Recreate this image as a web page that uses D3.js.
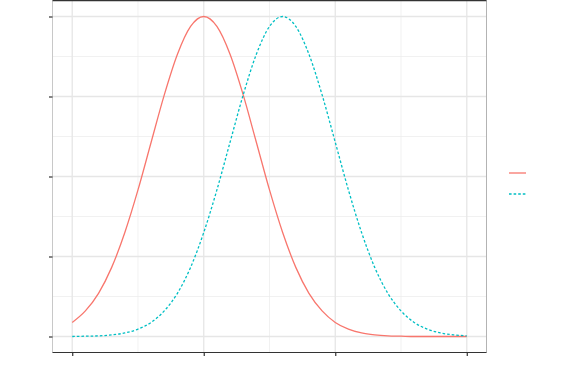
<!DOCTYPE html>
<html>
<head>
<meta charset="utf-8">
<script src="https://cdn.jsdelivr.net/npm/d3@7"></script>
<style>
  body { margin: 0; background: #fff; }
  svg { display: block; }
</style>
</head>
<body>
<div id="chart"></div>
<script>
// values (relative density, peak = 1)
const xs = [-1.0, -0.9, -0.8, -0.7, -0.6, -0.5, -0.4, -0.3, -0.2, -0.1, 0.0,
             0.1,  0.2,  0.3,  0.4,  0.5,  0.6,  0.7,  0.8,  0.9,  1.0,
             1.1,  1.2,  1.3,  1.4,  1.5,  1.6,  1.7,  1.8,  1.9,  2.0];
const seriesA = [0.044, 0.080, 0.135, 0.216, 0.325, 0.458, 0.607, 0.755, 0.882, 0.969, 1.000,
                 0.969, 0.882, 0.755, 0.607, 0.458, 0.325, 0.216, 0.135, 0.080, 0.044,
                 0.023, 0.011, 0.005, 0.002, 0.001, 0.000, 0.000, 0.000, 0.000, 0.000];
const seriesB = [0.000, 0.001, 0.002, 0.005, 0.011, 0.023, 0.044, 0.080, 0.135, 0.216, 0.325,
                 0.458, 0.607, 0.755, 0.882, 0.969, 1.000, 0.969, 0.882, 0.755, 0.607,
                 0.458, 0.325, 0.216, 0.135, 0.080, 0.044, 0.023, 0.011, 0.005, 0.002];
const xTicks = [-1, 0, 1, 2];
const xMinor = [-0.5, 0.5, 1.5];
const yTicks = [0, 0.25, 0.5, 0.75, 1];
const yMinor = [0.125, 0.375, 0.625, 0.875];

const width = 562, height = 388;
const panel = { left: 52.5, right: 486.5, top: 0.5, bottom: 352.5 };

const svg = d3.select("#chart").append("svg")
  .attr("width", width)
  .attr("height", height);

// ggplot-like 5% expansion
let xExt = d3.extent(xs);
let xPad = (xExt[1] - xExt[0]) * 0.05;
let x = d3.scaleLinear()
  .domain([xExt[0] - xPad, xExt[1] + xPad])
  .range([panel.left, panel.right]);

let yMax = d3.max(seriesA.concat(seriesB));
let y = d3.scaleLinear()
  .domain([-0.05 * yMax, 1.05 * yMax])
  .range([panel.bottom, panel.top]);

/* grid */
let grid = svg.append("g");
grid.selectAll(".ymin").data(yMinor).enter().append("line")
  .attr("x1", panel.left).attr("x2", panel.right)
  .attr("y1", d => y(d)).attr("y2", d => y(d))
  .attr("stroke", "#ebebeb").attr("stroke-width", 0.7);
grid.selectAll(".xmin").data(xMinor).enter().append("line")
  .attr("y1", panel.top).attr("y2", panel.bottom)
  .attr("x1", d => x(d)).attr("x2", d => x(d))
  .attr("stroke", "#ebebeb").attr("stroke-width", 0.7);
grid.selectAll(".ymaj").data(yTicks).enter().append("line")
  .attr("x1", panel.left).attr("x2", panel.right)
  .attr("y1", d => y(d)).attr("y2", d => y(d))
  .attr("stroke", "#e6e6e6").attr("stroke-width", 1.3);
grid.selectAll(".xmaj").data(xTicks).enter().append("line")
  .attr("y1", panel.top).attr("y2", panel.bottom)
  .attr("x1", d => x(d)).attr("x2", d => x(d))
  .attr("stroke", "#e6e6e6").attr("stroke-width", 1.3);

/* curves */
let pts = (vals) => xs.map((v, i) => ({ x: v, y: vals[i] }));
let line = d3.line()
  .x(d => x(d.x))
  .y(d => y(d.y))
  .curve(d3.curveMonotoneX);

svg.append("path")
  .attr("d", line(pts(seriesA)))
  .attr("fill", "none")
  .attr("stroke", "#F8766D")
  .attr("stroke-width", 1.3);

svg.append("path")
  .attr("d", line(pts(seriesB)))
  .attr("fill", "none")
  .attr("stroke", "#00BFC4")
  .attr("stroke-width", 1.3)
  .attr("stroke-dasharray", "2.6,2");

/* panel borders */
svg.append("line")
  .attr("x1", panel.left).attr("x2", panel.left)
  .attr("y1", panel.top).attr("y2", panel.bottom)
  .attr("stroke", "#c8c8c8").attr("stroke-width", 1);
svg.append("line")
  .attr("x1", panel.right).attr("x2", panel.right)
  .attr("y1", panel.top).attr("y2", panel.bottom)
  .attr("stroke", "#b3b3b3").attr("stroke-width", 1);
svg.append("line")
  .attr("x1", panel.left).attr("x2", panel.right)
  .attr("y1", 0.5).attr("y2", 0.5)
  .attr("stroke", "#333").attr("stroke-width", 1.5);

/* axes (labels are blank in the reference) */
let xAxis = d3.axisBottom(x).tickValues(xTicks).tickSize(3.5).tickFormat("");
let yAxis = d3.axisLeft(y).tickValues(yTicks).tickSize(3.5).tickFormat("");

svg.append("g")
  .attr("class", "x axis")
  .attr("transform", `translate(0, ${panel.bottom})`)
  .call(xAxis)
  .call(g => g.select(".domain").attr("d", `M${panel.left},0H${panel.right}`)
    .attr("stroke", "#333").attr("stroke-width", 1.2))
  .call(g => g.selectAll(".tick line").attr("stroke", "#333").attr("stroke-width", 1.2));

svg.append("g")
  .attr("class", "y axis")
  .attr("transform", `translate(${panel.left}, 0)`)
  .call(yAxis)
  .call(g => g.select(".domain").remove())
  .call(g => g.selectAll(".tick line").attr("stroke", "#333").attr("stroke-width", 1.2));

/* legend keys */
let legend = svg.append("g");
let keys = [
  { color: "#F8766D", dash: null, y: 173 },
  { color: "#00BFC4", dash: "2.6,2", y: 194 }
];
legend.selectAll("line").data(keys).enter().append("line")
  .attr("x1", 509).attr("x2", 526)
  .attr("y1", d => d.y).attr("y2", d => d.y)
  .attr("stroke", d => d.color)
  .attr("stroke-width", 1.3)
  .attr("stroke-dasharray", d => d.dash);
</script>
</body>
</html>
